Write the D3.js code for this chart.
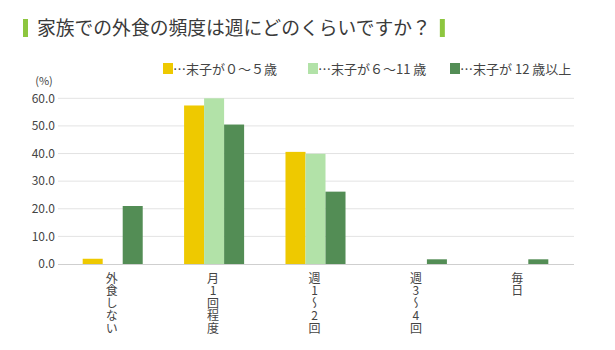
<!DOCTYPE html>
<html><head><meta charset="utf-8">
<script src="https://cdn.jsdelivr.net/npm/d3@7"></script>
<style>
html,body{margin:0;padding:0;background:#fff;}
svg{display:block;font-family:"Noto Sans CJK JP","Noto Sans",sans-serif;}
.vlab{writing-mode:vertical-rl;text-orientation:upright;}
</style></head>
<body><svg id="c" width="615" height="350"></svg>
<script>
const titleText = "家族での外食の頻度は週にどのくらいですか？";
const categories = ["外食しない","月1回程度","週1～2回","週3～4回","毎日"];
const seriesNames = ["…末子が０～５歳","…末子が６～11 歳","…末子が 12 歳以上"];
const seriesColors = ["#EEC900","#B2E2A8","#538D55"];
const age0to5 = [1.9, 57.4, 40.6, 0, 0];
const age6to11 = [0, 60.0, 39.9, 0, 0];
const age12plus = [21.0, 50.5, 26.2, 1.7, 1.7];
const yTicks = [0,10,20,30,40,50,60];
const yUnit = "(%)";

const seriesValues = [age0to5, age6to11, age12plus];
const svg = d3.select("#c");
const textColor = "#444";

// Title
svg.append("rect").attr("x",23).attr("y",19).attr("width",5).attr("height",18).attr("fill","#8DC63F");
const t = svg.append("text").attr("x",37).attr("y",35).attr("font-size",18.8).attr("fill","#3a3a3a")
  .text(titleText);
const tw = t.node().getComputedTextLength();
svg.append("rect").attr("x",37+tw+9).attr("y",19).attr("width",5).attr("height",18).attr("fill","#8DC63F");

// Scales
const y = d3.scaleLinear().domain([0,60]).range([264,98.3]);
const x0 = d3.scaleBand().domain(categories).range([62,569]).paddingInner(0.408).paddingOuter(0.204);
const x1 = d3.scaleBand().domain(seriesNames).range([0,x0.bandwidth()]);

// Gridlines
svg.append("g").selectAll("line").data(yTicks.filter(d=>d>0)).join("line")
  .attr("x1",58).attr("x2",574).attr("y1",d=>y(d)).attr("y2",d=>y(d))
  .attr("stroke","#e3e3e3").attr("stroke-width",1);

// Y labels
svg.append("g").selectAll("text").data(yTicks).join("text")
  .attr("x",55).attr("y",d=>y(d)).attr("dy","0.35em").attr("text-anchor","end")
  .attr("font-size",12).attr("fill",textColor).text(d=>d3.format(".1f")(d));
svg.append("text").attr("x",44).attr("y",85).attr("text-anchor","middle")
  .attr("font-size",11).attr("fill",textColor).text(yUnit);

// Bars
const rows = [];
categories.forEach((c,i)=>seriesNames.forEach((s,j)=>rows.push({c,s,j,v:seriesValues[j][i]})));
svg.append("g").selectAll("rect").data(rows.filter(d=>d.v>0)).join("rect")
  .attr("x",d=>x0(d.c)+x1(d.s)).attr("width",x1.bandwidth())
  .attr("y",d=>y(d.v)).attr("height",d=>y(0)-y(d.v))
  .attr("fill",d=>seriesColors[d.j]);

// Axis line
svg.append("line").attr("x1",58).attr("x2",574).attr("y1",y(0)+0.5).attr("y2",y(0)+0.5)
  .attr("stroke","#cfcfcf").attr("stroke-width",1);

// Vertical category labels
svg.append("g").selectAll("text").data(categories).join("text")
  .attr("class","vlab")
  .attr("x",d=>x0(d)+x0.bandwidth()/2 - 1).attr("y",272)
  .attr("font-size",12).attr("letter-spacing",0.6).attr("fill",textColor)
  .text(d=>d);

// Legend
const legX = [163, 308, 450];
seriesNames.forEach((s,j)=>{
  svg.append("rect").attr("x",legX[j]).attr("y",63).attr("width",10).attr("height",11).attr("fill",seriesColors[j]);
  svg.append("text").attr("x",legX[j]+10).attr("y",73.5).attr("font-size",13).attr("fill",textColor).text(s);
});
</script></body></html>
